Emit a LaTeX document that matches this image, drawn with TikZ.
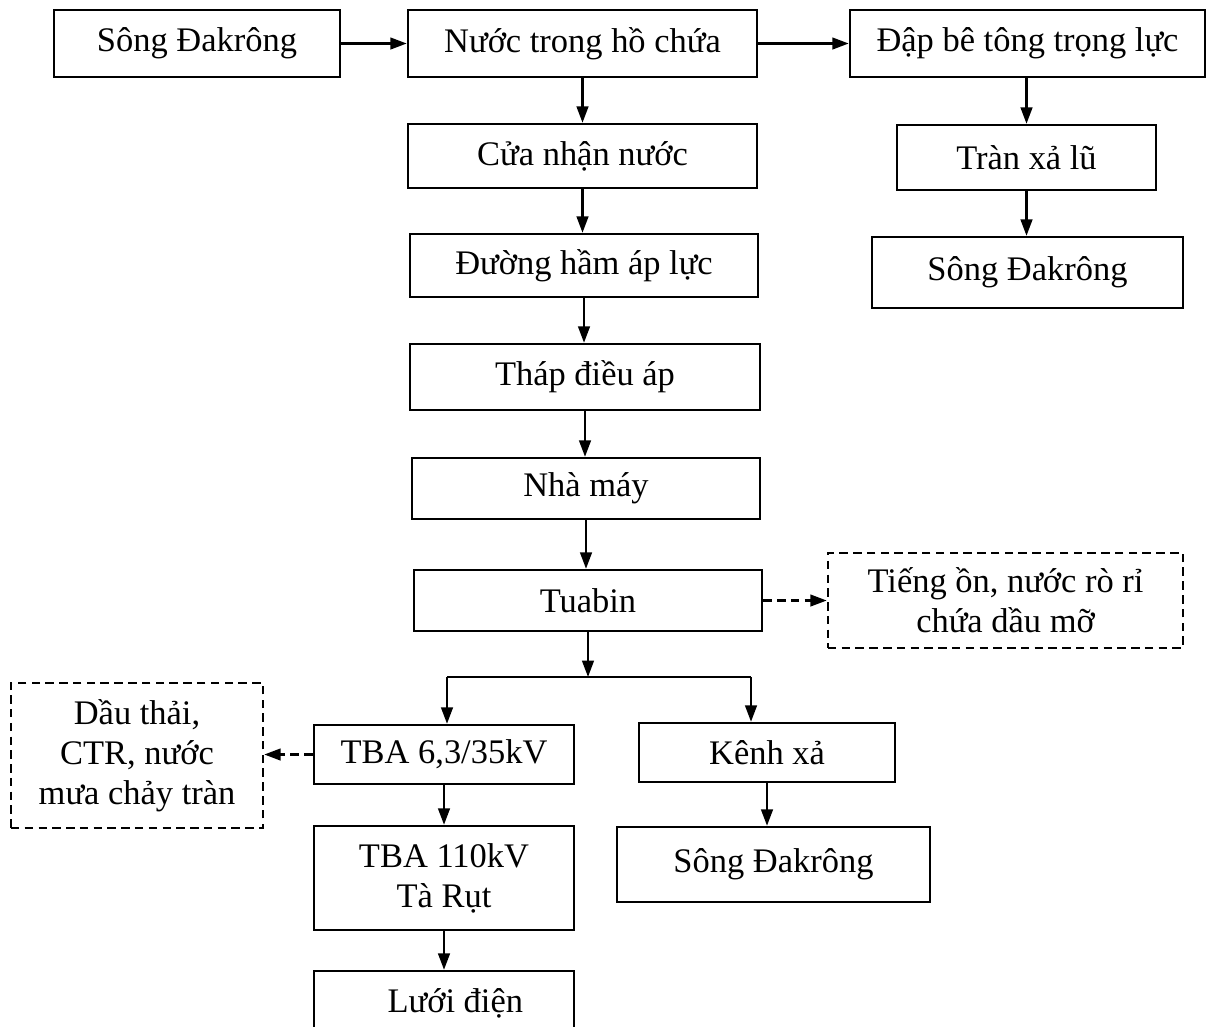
\documentclass[tikz,border=0pt]{standalone}
\usepackage{fontspec}
\setmainfont{Liberation Serif}
\usetikzlibrary{arrows.meta}
\begin{document}
\begin{tikzpicture}[x=0.013267cm, y=-0.013267cm,
	box/.style={draw, line width=0.9pt, inner sep=0pt, align=center, font=\fontsize{13}{15}\selectfont},
	dbox/.style={box, dash pattern=on 3.2pt off 2pt},
	arr/.style={line width=0.9pt, -{Triangle[length=6.2pt,width=4.4pt]}},
	darr/.style={arr, dash pattern=on 3.2pt off 2pt}]
	\useasboundingbox (0,0) rectangle (1206,1026);
	\clip (0,0) rectangle (1206,1026);
	\node[box, minimum width=3.794cm, minimum height=0.889cm] (songA) at (197,43.5) {Sông Đakrông};
	\node[box, minimum width=4.630cm, minimum height=0.889cm] (nuoc) at (582.5,43.5) {Nước trong hồ chứa};
	\node[box, minimum width=4.710cm, minimum height=0.889cm] (dap) at (1027.5,43.5) {Đập bê tông trọng lực};
	\node[box, minimum width=4.630cm, minimum height=0.849cm] (cua) at (582.5,156) {Cửa nhận nước};
	\node[box, minimum width=4.617cm, minimum height=0.836cm] (duong) at (584,265.5) {Đường hầm áp lực};
	\node[box, minimum width=4.643cm, minimum height=0.876cm] (thap) at (585,377) {Tháp điều áp};
	\node[box, minimum width=4.617cm, minimum height=0.809cm] (nhamay) at (586,488.5) {Nhà máy};
	\node[box, minimum width=4.617cm, minimum height=0.809cm] (tuabin) at (588,600.5) {Tuabin};
	\node[box, minimum width=3.436cm, minimum height=0.862cm] (tran) at (1026.5,157.5) {Tràn xả lũ};
	\node[box, minimum width=4.126cm, minimum height=0.942cm] (songB) at (1027.5,272.5) {Sông Đakrông};
	\node[dbox, minimum width=4.710cm, minimum height=1.260cm] (tieng) at (1005.5,600.5) {Tiếng ồn, nước rò rỉ\\chứa dầu mỡ};
	\node[box, minimum width=3.449cm, minimum height=0.783cm] (tba35) at (444,754.5) {TBA 6,3/35kV};
	\node[dbox, minimum width=3.343cm, minimum height=1.924cm] (dau) at (137,755.5) {Dầu thải,\\CTR, nước\\mưa chảy tràn};
	\node[box, minimum width=3.449cm, minimum height=1.380cm] (tba110) at (444,878) {TBA 110kV\\Tà Rụt};
	\node[box, minimum width=3.449cm, minimum height=0.849cm] (luoi) at (444,1003) {\hspace{0.3cm}Lưới điện};
	\node[box, minimum width=3.396cm, minimum height=0.783cm] (kenh) at (767,752.5) {Kênh xả};
	\node[box, minimum width=4.153cm, minimum height=0.995cm] (songC) at (773.5,864.5) {Sông Đakrông};
	\coordinate (jn) at (588,677);
	\coordinate (jl) at (447,677);
	\coordinate (jr) at (751,677);
	\draw[arr] (songA) -- (nuoc);
	\draw[arr] (nuoc) -- (dap);
	\draw[arr] (nuoc.south) -- (nuoc.south |- cua.north);
	\draw[arr] (cua.south) -- (cua.south |- duong.north);
	\draw[arr] (duong.south) -- (duong.south |- thap.north);
	\draw[arr] (thap.south) -- (thap.south |- nhamay.north);
	\draw[arr] (nhamay.south) -- (nhamay.south |- tuabin.north);
	\draw[arr] (dap.south -| tran.north) -- (tran.north);
	\draw[arr] (tran.south) -- (tran.south |- songB.north);
	\draw[darr] (tuabin) -- (tieng);
	\draw[arr] (tuabin.south) -- (jn);
	\draw[line width=0.9pt] (jl) -- (jr);
	\draw[arr] (jl) -- (jl |- tba35.north);
	\draw[arr] (jr) -- (jr |- kenh.north);
	\draw[darr] (tba35.west) -- (tba35.west -| dau.east);
	\draw[arr] (tba35.south) -- (tba35.south |- tba110.north);
	\draw[arr] (tba110.south) -- (tba110.south |- luoi.north);
	\draw[arr] (kenh.south) -- (kenh.south |- songC.north);
\end{tikzpicture}
\end{document}
